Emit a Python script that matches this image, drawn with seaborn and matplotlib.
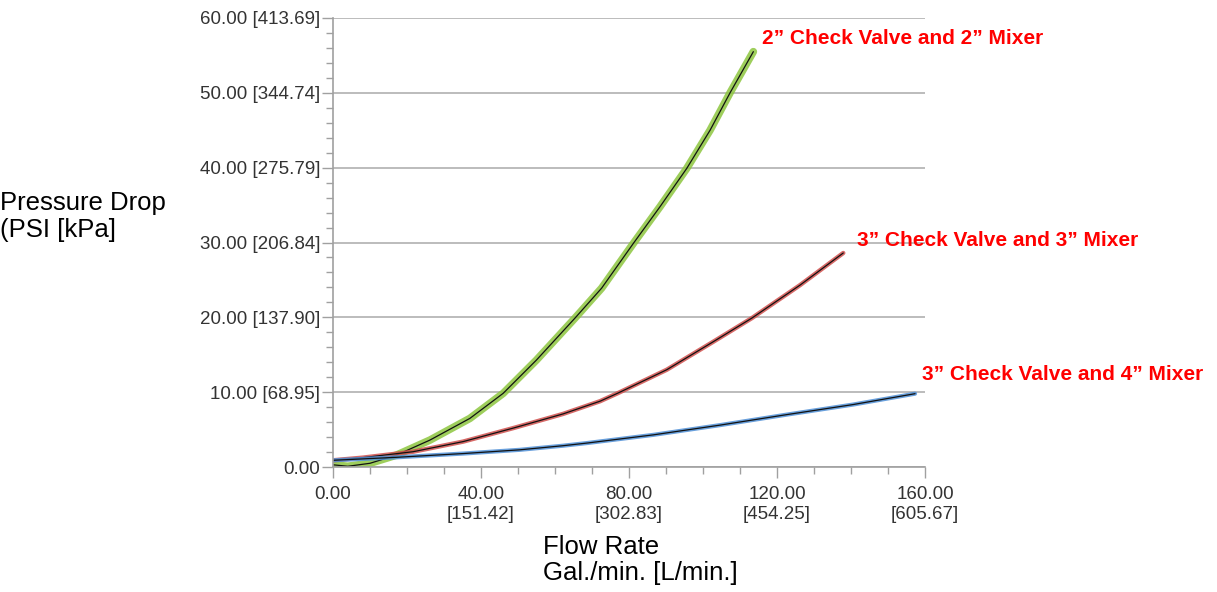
import matplotlib
matplotlib.use("Agg")
import matplotlib.pyplot as plt
import seaborn as sns
from matplotlib.ticker import MultipleLocator

# values
flow_2in = [0, 4, 10, 17.2, 26.2, 37, 46, 55, 65.4, 72.6, 81.2, 88.4, 95.6, 101.9, 107.3, 113.6]
psi_2in = [0.3, 0.1, 0.5, 1.6, 3.6, 6.5, 9.85, 14.3, 19.9, 23.9, 29.9, 34.8, 39.9, 45.0, 50.0, 55.5]

flow_3in = [0, 8, 21.7, 35.2, 48.7, 62.2, 72.2, 77.1, 90.2, 102.8, 113.2, 126.2, 137.9]
psi_3in = [0.9, 1.25, 2.05, 3.4, 5.2, 7.1, 8.8, 9.9, 13.0, 16.75, 19.9, 24.3, 28.6]

flow_4in = [0, 17.2, 35.2, 50.5, 62.2, 68.6, 86.6, 104.6, 122.6, 140.6, 157.3]
psi_4in = [0.9, 1.3, 1.8, 2.3, 2.85, 3.2, 4.3, 5.6, 7.0, 8.35, 9.8]

psi_ticks = [0, 10, 20, 30, 40, 50, 60]
kpa_ticks = [0, 68.95, 137.90, 206.84, 275.79, 344.74, 413.69]
gpm_ticks = [0, 40, 80, 120, 160]
lpm_ticks = [0, 151.42, 302.83, 454.25, 605.67]

series = [
    ("2\u201d Check Valve and 2\u201d Mixer", flow_2in, psi_2in, "#8DC63F", 5.5, (116, 57.3)),
    ("3\u201d Check Valve and 3\u201d Mixer", flow_3in, psi_3in, "#D0504D", 3.2, (141.6, 30.3)),
    ("3\u201d Check Valve and 4\u201d Mixer", flow_4in, psi_4in, "#4F8FD6", 3.0, (159.2, 12.3)),
]

sns.set_theme(style="white")
plt.rcParams["font.family"] = ["Liberation Sans", "DejaVu Sans"]

fig = plt.figure(figsize=(12.17, 5.92), dpi=100)
ax = fig.add_axes([0.2736, 0.2111, 0.4865, 0.7585])

for name, fx, fy, col, lw, lab in series:
    # coloured band with a thin dark trace on top
    sns.lineplot(x=fx, y=fy, ax=ax, color=col, linewidth=lw, alpha=0.85)
    sns.lineplot(x=fx, y=fy, ax=ax, color="#111111", linewidth=0.9)
    ax.text(lab[0], lab[1], name, color="#FF0000", fontsize=15, fontweight="bold",
            ha="left", va="center", clip_on=False)

ax.set_xlim(0, 160)
ax.set_ylim(0, 60)
ax.set_xticks(gpm_ticks)
ax.set_xticklabels(["0.00"] + [f"{g:.2f}\n[{l:.2f}]" for g, l in zip(gpm_ticks[1:], lpm_ticks[1:])])
ax.set_yticks(psi_ticks)
ax.set_yticklabels(["0.00"] + [f"{p:.2f} [{k:.2f}]" for p, k in zip(psi_ticks[1:], kpa_ticks[1:])])
ax.xaxis.set_minor_locator(MultipleLocator(10))
ax.yaxis.set_minor_locator(MultipleLocator(2))

ax.tick_params(axis="both", which="major", direction="out", length=8, width=1,
               color="#A0A0A0", labelsize=13.5, labelcolor="#333333", pad=1)
ax.tick_params(axis="x", which="major", pad=6)
ax.tick_params(axis="both", which="minor", direction="out", length=5, width=1, color="#A0A0A0")
ax.tick_params(left=True, bottom=True, which="both")

ax.grid(axis="y", color="#B0B0B0", linewidth=1.2)
ax.grid(axis="x", visible=False)
for s in ["top", "right"]:
    ax.spines[s].set_visible(False)
for s in ["left", "bottom"]:
    ax.spines[s].set_color("#A0A0A0")
    ax.spines[s].set_linewidth(1.2)
ax.set_xlabel("")
ax.set_ylabel("")

fig.text(0.0, 0.635, "Pressure Drop\n(PSI [kPa]", fontsize=18.5, color="black",
         ha="left", va="center", linespacing=1.15)
fig.text(543 / 1217, 1 - 560 / 592, "Flow Rate\nGal./min. [L/min.]", fontsize=18.5,
         color="black", ha="left", va="center", linespacing=1.15)

fig.savefig("out.png", dpi=100)
